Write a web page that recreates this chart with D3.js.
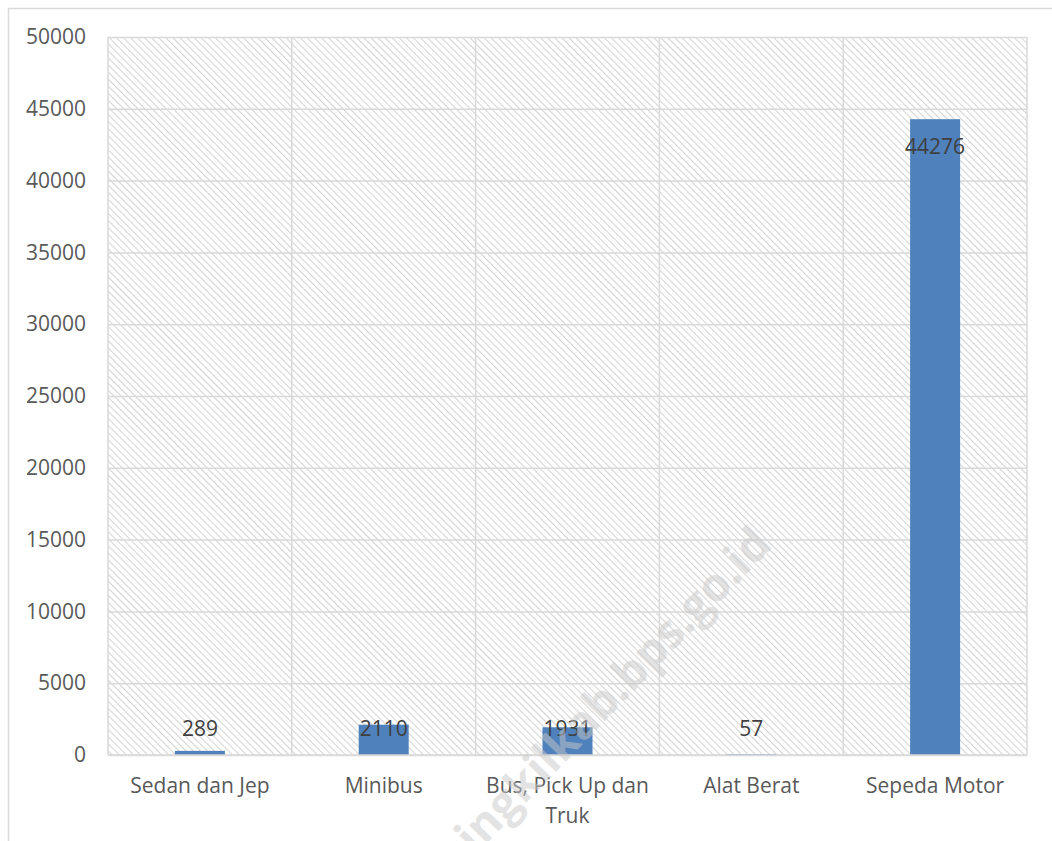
<!DOCTYPE html>
<html>
<head>
<meta charset="utf-8">
<script src="https://cdn.jsdelivr.net/npm/d3@7"></script>
<style>
  body { margin: 0; background: #fff; }
  text { font-family: "Open Sans", "Noto Sans", sans-serif; }
</style>
</head>
<body>
<svg id="chart" width="1052" height="841"></svg>
<script>
// data
const categories = ['Sedan dan Jep', 'Minibus', 'Bus, Pick Up dan Truk', 'Alat Berat', 'Sepeda Motor'];
const values = [289, 2110, 1931, 57, 44276];
const yTicks = [0, 5000, 10000, 15000, 20000, 25000, 30000, 35000, 40000, 45000, 50000];

const svg = d3.select('#chart');
const W = 1052, H = 841;
const plot = {left: 108, top: 37, right: 1027, bottom: 755};

const grid = '#d9d9d9';
const barColor = '#4f81bd';
const fontSize = 21;

// outer chart border (runs past the bottom/right of the picture)
svg.append('rect')
    .attr('x', 8.5).attr('y', 8.5)
    .attr('width', W + 20).attr('height', H + 20)
    .attr('fill', '#fff')
    .attr('stroke', grid).attr('stroke-width', 1.5);

// diagonal hatch fill for the plot area (lines go down to the right)
const defs = svg.append('defs');
const pat = defs.append('pattern')
    .attr('id', 'hatch')
    .attr('patternUnits', 'userSpaceOnUse')
    .attr('width', 5).attr('height', 5)
    .attr('patternTransform', 'rotate(-45)');
pat.append('rect').attr('width', 5).attr('height', 5).attr('fill', '#fff');
pat.append('line')
    .attr('x1', 0).attr('y1', 0).attr('x2', 0).attr('y2', 5)
    .attr('stroke', '#d6d6d6').attr('stroke-width', 2.2);

const x = d3.scaleBand()
    .domain(categories)
    .range([plot.left, plot.right])
    .paddingInner(0)
    .paddingOuter(0);

const y = d3.scaleLinear()
    .domain([0, 50000])
    .range([plot.bottom, plot.top]);

svg.append('rect')
    .attr('x', plot.left).attr('y', plot.top)
    .attr('width', plot.right - plot.left)
    .attr('height', plot.bottom - plot.top)
    .attr('fill', 'url(#hatch)');

// horizontal gridlines + y labels
const yAxis = svg.append('g')
    .attr('transform', `translate(${plot.left},0)`)
    .call(d3.axisLeft(y).tickValues(yTicks).tickSize(-(plot.right - plot.left)).tickPadding(22).tickFormat(d3.format('d')));
yAxis.select('.domain').remove();
yAxis.selectAll('.tick line').attr('stroke', grid).attr('stroke-width', 1.5);
yAxis.selectAll('.tick text')
    .attr('fill', '#595959')
    .attr('font-size', fontSize)
    .attr('font-family', '"Open Sans", sans-serif');

// vertical gridlines at category edges
const edges = categories.map(c => x(c)).concat([plot.right]);
svg.append('g').selectAll('line')
    .data(edges)
    .join('line')
    .attr('x1', d => d).attr('x2', d => d)
    .attr('y1', plot.top).attr('y2', plot.bottom)
    .attr('stroke', grid).attr('stroke-width', 1.5);

// bars
const barW = 50;
svg.append('g').selectAll('rect')
    .data(values)
    .join('rect')
    .attr('x', (d, i) => x(categories[i]) + x.bandwidth() / 2 - barW / 2)
    .attr('y', d => y(d))
    .attr('width', barW)
    .attr('height', d => y(0) - y(d))
    .attr('fill', barColor);

// bottom axis line
svg.append('line')
    .attr('x1', plot.left).attr('x2', plot.right)
    .attr('y1', y(0)).attr('y2', y(0))
    .attr('stroke', grid).attr('stroke-width', 1.5);

// value labels - inside end, but kept above the axis for short bars
svg.append('g').selectAll('text')
    .data(values)
    .join('text')
    .attr('x', (d, i) => x(categories[i]) + x.bandwidth() / 2)
    .attr('y', d => Math.min(y(d) + 27, y(0) - 26))
    .attr('dy', '0.35em')
    .attr('text-anchor', 'middle')
    .attr('font-size', fontSize)
    .attr('fill', '#404040')
    .text(d => d);

// category labels, wrapped to the band width
const xLab = svg.append('g').selectAll('text')
    .data(categories)
    .join('text')
    .attr('x', d => x(d) + x.bandwidth() / 2)
    .attr('y', 786)
    .attr('text-anchor', 'middle')
    .attr('font-size', fontSize)
    .attr('fill', '#595959');

xLab.each(function(d) {
    const t = d3.select(this);
    const words = d.split(' ');
    const maxW = x.bandwidth() - 14;
    let line = [];
    let tspan = t.append('tspan').attr('x', t.attr('x')).attr('dy', '0.35em');
    words.forEach(w => {
        line.push(w);
        tspan.text(line.join(' '));
        if (tspan.node().getComputedTextLength() > maxW && line.length > 1) {
            line.pop();
            tspan.text(line.join(' '));
            line = [w];
            tspan = t.append('tspan').attr('x', t.attr('x')).attr('dy', 30).text(w);
        }
    });
});

// faint site watermark
svg.append('text')
    .attr('transform', 'translate(774,546) rotate(-46)')
    .attr('text-anchor', 'end')
    .attr('font-size', 46)
    .attr('font-weight', 'bold')
    .attr('fill', '#c8c8c8')
    .attr('fill-opacity', 0.5)
    .text('singkilkab.bps.go.id');
</script>
</body>
</html>
